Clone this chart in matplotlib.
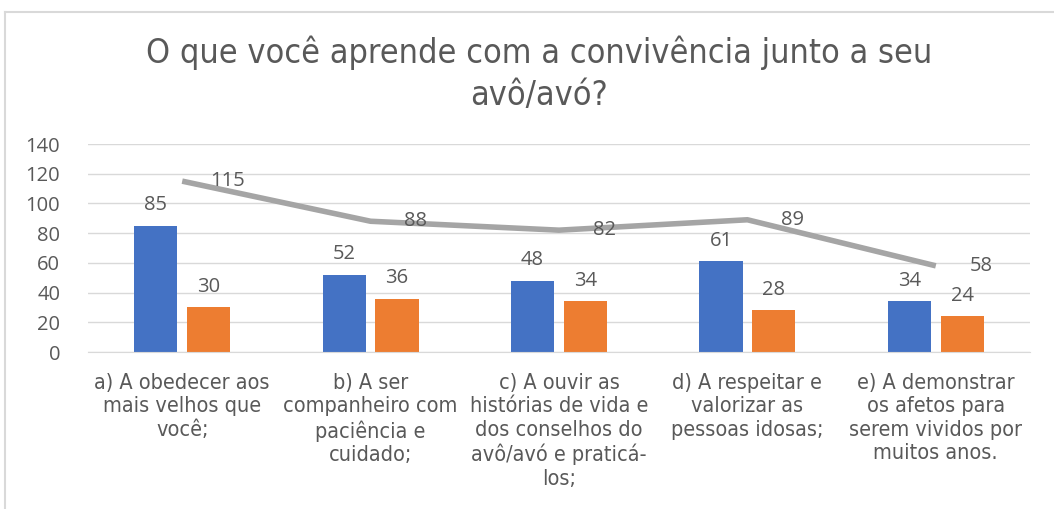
import matplotlib.pyplot as plt
import numpy as np

# data
categories = [
    "a) A obedecer aos\nmais velhos que\nvocê;",
    "b) A ser\ncompanheiro com\npaciência e\ncuidado;",
    "c) A ouvir as\nhistórias de vida e\ndos conselhos do\navô/avó e praticá-\nlos;",
    "d) A respeitar e\nvalorizar as\npessoas idosas;",
    "e) A demonstrar\nos afetos para\nserem vividos por\nmuitos anos.",
]
serie_azul = [85, 52, 48, 61, 34]
serie_laranja = [30, 36, 34, 28, 24]
total = [115, 88, 82, 89, 58]
yticks = [0, 20, 40, 60, 80, 100, 120, 140]

azul = "#4472C4"
laranja = "#ED7D31"
cinza = "#A5A5A5"
texto = "#595959"

fig = plt.figure(figsize=(10.54, 5.09), dpi=100)
ax = fig.add_axes([88 / 1054, 1 - 352 / 509, (1030 - 88) / 1054, (352 - 144) / 509])

x = np.arange(len(categories))
w = 0.23
off = 0.14
ax.bar(x - off, serie_azul, w, color=azul, zorder=2)
ax.bar(x + off, serie_laranja, w, color=laranja, zorder=2)
ax.plot(x, total, color=cinza, lw=4, zorder=3, solid_capstyle="butt")

num_font = dict(family="Open Sans", fontsize=14.5, color=texto)
for i in range(len(x)):
    ax.text(x[i] - off, serie_azul[i] + 7, str(serie_azul[i]), ha="center", va="bottom", **num_font)
    ax.text(x[i] + off, serie_laranja[i] + 7, str(serie_laranja[i]), ha="center", va="bottom", **num_font)
    ax.text(x[i] + 0.24, total[i], str(total[i]), ha="center", va="center", **num_font)

ax.set_xlim(-0.5, len(categories) - 0.5)
ax.set_ylim(0, 140)
ax.set_yticks(yticks)
ax.set_yticklabels([str(v) for v in yticks], **num_font)
ax.yaxis.grid(True, color="#D9D9D9", lw=1, zorder=0)
ax.set_xticks(x)
ax.set_xticklabels(categories, family="DejaVu Sans", stretch="condensed", fontsize=15.5,
                   color=texto, linespacing=1.22, va="top")
ax.tick_params(axis="both", length=0)
ax.tick_params(axis="x", pad=15)
ax.tick_params(axis="y", pad=20)
for s in ["top", "right", "left"]:
    ax.spines[s].set_visible(False)
ax.spines["bottom"].set_color("#D9D9D9")

titulo = dict(ha="center", va="center", family="DejaVu Sans", stretch="condensed",
              fontsize=24.5, color=texto)
fig.text(539 / 1054, 1 - 53 / 509, "O que você aprende com a convivência junto a seu", **titulo)
fig.text(539 / 1054, 1 - 96 / 509, "avô/avó?", **titulo)

# light frame of the chart area
fig.add_artist(plt.Line2D([5 / 1054, 5 / 1054], [0, 1 - 12 / 509], color="#D9D9D9", lw=1.5))
fig.add_artist(plt.Line2D([5 / 1054, 1], [1 - 12 / 509, 1 - 12 / 509], color="#D9D9D9", lw=1.5))

fig.savefig("out.png", dpi=100)
